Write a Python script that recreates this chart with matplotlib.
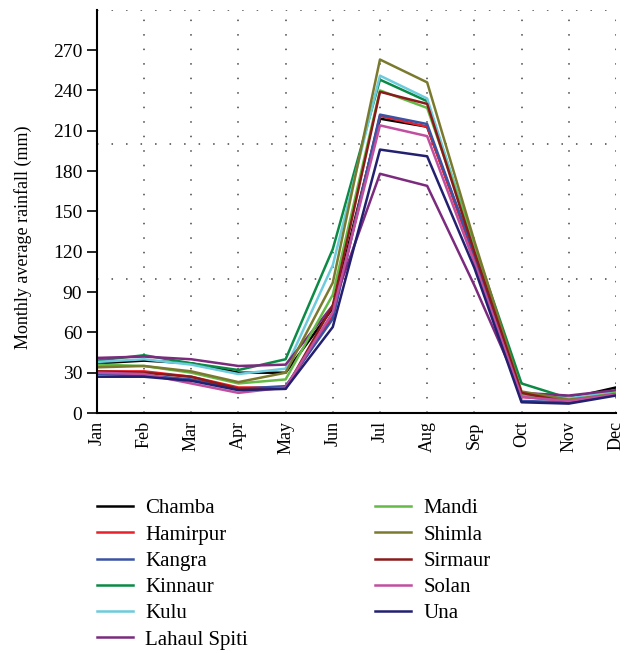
import matplotlib
matplotlib.use("Agg")
import matplotlib.pyplot as plt

months = ["Jan", "Feb", "Mar", "Apr", "May", "Jun",
          "Jul", "Aug", "Sep", "Oct", "Nov", "Dec"]

chamba = [37, 39, 37, 30, 30, 78, 219, 213, 118, 13, 11, 19]
hamirpur = [31, 31, 27, 19, 19, 72, 221, 213, 116, 12, 9, 15]
kangra = [29, 28, 25, 18, 20, 70, 222, 215, 118, 9, 8, 14]
kinnaur = [39, 43, 37, 32, 40, 122, 248, 232, 125, 22, 11, 15]
kulu = [38, 40, 36, 29, 33, 110, 251, 234, 124, 14, 11, 16]
lahaul_spiti = [41, 42, 40, 35, 36, 80, 178, 169, 95, 15, 13, 17]
mandi = [36, 35, 30, 22, 25, 88, 240, 227, 126, 13, 9, 15]
shimla = [34, 35, 31, 23, 30, 97, 263, 246, 128, 16, 10, 14]
sirmaur = [31, 30, 27, 18, 18, 80, 239, 230, 120, 15, 8, 14]
solan = [30, 29, 22, 15, 19, 75, 214, 206, 112, 12, 9, 14]
una = [27, 27, 24, 17, 18, 64, 196, 191, 108, 8, 7, 13]

districts = ["Chamba", "Hamirpur", "Kangra", "Kinnaur", "Kulu", "Lahaul Spiti",
             "Mandi", "Shimla", "Sirmaur", "Solan", "Una"]
series = [chamba, hamirpur, kangra, kinnaur, kulu, lahaul_spiti,
          mandi, shimla, sirmaur, solan, una]
colors = ["#000000", "#e8202a", "#3a53a4", "#0a8a45", "#6ccbdc", "#7b2a7e",
          "#63bb46", "#7a7a2e", "#8b1a1a", "#c04fa0", "#232070"]

plt.rcParams["font.family"] = ["Liberation Serif", "DejaVu Serif"]

fig = plt.figure(figsize=(6.33, 6.53), dpi=100)
ax = fig.add_axes([0.153, 0.3675, 0.82, 0.6175])

x = list(range(len(months)))
lines = []
for name, vals, col in zip(districts, series, colors):
    (ln,) = ax.plot(x, vals, color=col, lw=1.8, label=name)
    lines.append(ln)

ax.set_xlim(0, 11)
ax.set_ylim(0, 300)
ax.set_yticks(range(0, 271, 30))
ax.set_xticks(x)
ax.set_xticklabels(months, rotation=90, fontsize=13)
ax.tick_params(axis="y", labelsize=14, length=7, width=1.2, direction="out")
ax.tick_params(axis="x", length=0, pad=6)

# dotted grid: every month vertically, every 100 mm horizontally
dot = dict(color="#444444", lw=1.1, linestyle=(0, (1, 8.5)))
for xi in x[1:]:
    ax.axvline(xi, **dot, zorder=0)
for yv in (100, 200, 300):
    ax.axhline(yv, **dot, zorder=0)

for side in ("top", "right"):
    ax.spines[side].set_visible(False)
ax.spines["left"].set_linewidth(1.5)
ax.spines["bottom"].set_linewidth(1.5)

ax.set_ylabel("Monthly average rainfall (mm)", fontsize=13)
ax.yaxis.set_label_coords(-0.125, 0.437)

leg_kw = dict(frameon=False, fontsize=15, handlelength=1.75,
              handletextpad=0.58, labelspacing=0.32, borderaxespad=0,
              borderpad=0)
fig.legend(lines[:6], districts[:6], loc="upper left",
           bbox_to_anchor=(0.153, 0.236), **leg_kw)
fig.legend(lines[6:], districts[6:], loc="upper left",
           bbox_to_anchor=(0.592, 0.236), **leg_kw)

fig.savefig("out.png", dpi=100)
